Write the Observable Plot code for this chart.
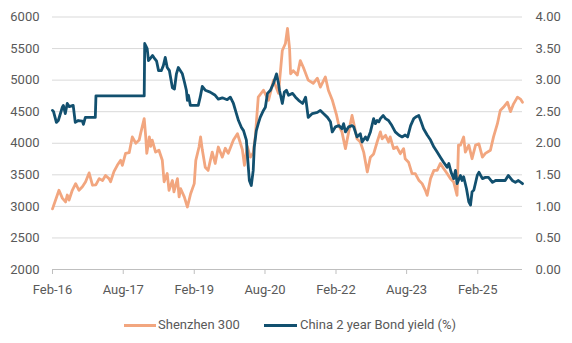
<!DOCTYPE html>
<html><head><meta charset="utf-8">
<script src="https://cdn.jsdelivr.net/npm/d3@7"></script>
<script src="https://cdn.jsdelivr.net/npm/@observablehq/plot@0.6"></script>
<style>
body{margin:0;background:#fff;font-family:Roboto,sans-serif;}
#wrap{position:relative;width:572px;height:343px;overflow:hidden;}
#wrap svg{position:absolute;left:0;top:0;}
.lt{position:absolute;top:316px;font-size:13px;color:#595959;line-height:18px;white-space:nowrap;}
.sw{position:absolute;height:3px;top:324px;}
</style></head><body><div id="wrap"></div>
<script>
// Shenzhen 300 (left axis)
const csiDates = [
"2016-02-01","2016-03-22","2016-04-17","2016-05-12","2016-05-25","2016-06-08","2016-07-03","2016-07-29","2016-08-24","2016-09-19","2016-10-14","2016-11-10","2016-12-06",
"2017-01-01","2017-01-27","2017-02-22","2017-03-17","2017-04-13","2017-04-25","2017-05-21","2017-06-16","2017-07-12","2017-07-25","2017-08-19","2017-09-16","2017-10-10","2017-11-06","2017-12-02","2017-12-14",
"2018-01-10","2018-01-22","2018-01-30","2018-02-19","2018-03-01","2018-03-13","2018-04-08","2018-05-04","2018-05-30","2018-06-13","2018-07-07","2018-07-21","2018-08-16","2018-08-28","2018-09-24","2018-10-07","2018-10-19","2018-11-16","2018-12-10",
"2019-01-04","2019-02-01","2019-02-13","2019-03-10","2019-03-22",
"2019-04-04","2019-04-27","2019-05-19","2019-06-20","2019-07-13","2019-08-06","2019-09-06","2019-09-29","2019-10-22","2019-12-01",
"2020-01-01","2020-01-24","2020-02-08","2020-02-24","2020-03-17","2020-04-10","2020-05-02","2020-05-18","2020-06-10","2020-07-20","2020-08-28","2020-10-06","2020-11-13","2020-12-13",
"2021-01-06","2021-01-22","2021-02-07","2021-02-15","2021-03-07","2021-04-08","2021-05-01","2021-05-25","2021-07-01","2021-08-09","2021-09-10","2021-10-03","2021-11-11","2021-12-04",
"2022-01-04","2022-01-15","2022-02-06","2022-02-23","2022-03-19","2022-04-15","2022-05-10","2022-06-05","2022-06-22","2022-07-13","2022-08-08","2022-09-03","2022-10-01","2022-10-25","2022-11-19","2022-12-16",
"2023-01-10","2023-01-24","2023-02-19","2023-03-14","2023-03-27","2023-04-22","2023-05-18","2023-06-13","2023-07-09","2023-07-21","2023-08-16","2023-09-12","2023-10-07","2023-11-03","2023-11-29","2023-12-24",
"2024-01-07","2024-02-02","2024-02-28","2024-03-24","2024-04-18","2024-05-13","2024-06-09","2024-07-04","2024-07-30","2024-08-25","2024-09-05","2024-09-20","2024-10-15","2024-10-28","2024-11-24","2024-12-19",
"2025-01-15","2025-02-10","2025-03-09","2025-04-01","2025-05-10","2025-06-03","2025-07-03","2025-07-25","2025-08-18","2025-09-19","2025-10-12","2025-11-04","2025-12-05","2025-12-28","2026-01-13"];
const csiValues = [
2960,3255,3130,3070,3180,3100,3255,3360,3255,3310,3390,3530,3335,
3340,3440,3410,3490,3440,3390,3550,3650,3730,3650,3840,3850,4100,4000,4050,4160,
4390,4100,3840,4100,3950,4050,3860,3890,3730,3390,3520,3255,3410,3230,3440,3150,3280,3150,2990,
3200,3360,3730,3940,4100,
3900,3620,3570,3860,3680,3940,3780,3920,3840,4050,
4150,4000,3900,3650,3950,3780,3850,4100,4730,4840,4680,5000,4790,5470,
5580,5820,5500,5100,5150,5080,5310,5200,5000,4950,5030,4890,5050,4840,
4680,4600,4440,4280,4180,3915,4180,4440,4280,4070,4020,3860,3545,3780,3830,4020,
4180,4070,4125,4020,4100,3915,3940,3835,3915,3755,3700,3520,3520,3415,3360,3255,
3175,3440,3570,3570,3680,3600,3520,3440,3385,3175,3970,3970,4100,3860,3970,3755,
3970,3990,3780,3840,3890,4100,4310,4520,4570,4650,4500,4620,4730,4700,4650];

// China 2 year Bond yield, % (right axis)
const bondDates = [
"2016-02-01","2016-02-09","2016-03-02","2016-03-17","2016-04-17","2016-04-25","2016-05-10","2016-05-25","2016-06-10","2016-07-10","2016-07-26","2016-08-18","2016-09-19","2016-09-27","2016-10-12","2016-12-28",
"2017-01-02",
"2018-01-10","2018-01-14","2018-02-02","2018-02-12","2018-02-28","2018-03-16","2018-04-01","2018-04-16","2018-05-01","2018-05-22","2018-06-07","2018-06-22","2018-07-07","2018-07-24","2018-08-16","2018-09-01","2018-09-16","2018-10-01","2018-11-01","2018-11-17","2018-12-02","2018-12-10","2018-12-18",
"2019-01-02","2019-03-04","2019-03-19","2019-04-04","2019-04-27","2019-06-04","2019-07-13","2019-08-06","2019-09-06","2019-10-14","2019-11-07","2019-12-01","2019-12-24",
"2020-01-09","2020-02-01","2020-02-17","2020-03-10","2020-03-17","2020-04-02","2020-04-17","2020-05-02","2020-05-10","2020-05-26","2020-06-10","2020-06-25","2020-07-20","2020-08-04","2020-08-20","2020-09-12","2020-10-06","2020-10-29","2020-11-13","2020-11-21","2020-12-13","2020-12-29",
"2021-01-14","2021-01-30","2021-03-02","2021-03-25","2021-04-18","2021-05-19","2021-06-11","2021-07-01","2021-08-02","2021-09-10","2021-10-03","2021-10-27","2021-11-27","2021-12-20",
"2022-01-03","2022-01-28","2022-02-23","2022-03-19","2022-04-01","2022-04-15","2022-05-10","2022-06-05","2022-06-18","2022-07-13","2022-08-08","2022-08-22","2022-09-17","2022-10-01","2022-10-25","2022-11-19","2022-12-03","2022-12-16","2022-12-29",
"2023-01-10","2023-02-01","2023-02-19","2023-03-14","2023-04-09","2023-05-05","2023-06-01","2023-06-27","2023-07-21","2023-08-09","2023-09-01","2023-09-25","2023-10-15","2023-11-03","2023-11-21","2023-12-10",
"2024-01-07","2024-02-02","2024-02-28","2024-03-24","2024-04-18","2024-05-13","2024-06-09","2024-06-22","2024-07-10","2024-07-30","2024-08-13","2024-08-25","2024-09-20","2024-10-03","2024-10-15","2024-11-06","2024-11-24","2024-12-07","2024-12-19",
"2025-01-02","2025-01-28","2025-02-10","2025-03-09","2025-04-01","2025-04-25","2025-05-26","2025-06-19","2025-07-25","2025-09-01","2025-09-25","2025-10-26","2025-11-19","2025-12-12","2026-01-13"];
const bondValues = [
2.52,2.50,2.33,2.36,2.57,2.60,2.47,2.63,2.58,2.60,2.33,2.36,2.35,2.30,2.41,2.41,
2.75,
2.75,3.58,3.50,3.31,3.35,3.39,3.34,3.30,3.15,3.15,3.23,3.36,3.20,3.15,2.88,2.86,3.10,3.20,3.10,2.97,2.84,2.68,2.76,
2.60,2.60,2.73,2.90,2.84,2.81,2.76,2.70,2.72,2.69,2.73,2.63,2.47,
2.36,2.25,2.20,2.05,1.84,1.41,1.33,1.57,1.94,2.20,2.31,2.41,2.52,2.57,2.79,2.84,2.95,3.10,2.95,2.84,2.63,2.81,
2.84,2.76,2.79,2.73,2.68,2.63,2.73,2.41,2.47,2.49,2.52,2.47,2.41,2.34,
2.18,2.26,2.28,2.23,2.31,2.18,2.26,2.28,2.26,2.10,2.15,2.02,2.10,2.05,2.18,2.39,2.31,2.36,2.34,
2.39,2.44,2.39,2.36,2.28,2.18,2.13,2.10,2.13,2.10,2.28,2.39,2.42,2.44,2.34,2.23,
2.13,2.05,1.94,1.86,1.78,1.70,1.62,1.68,1.54,1.44,1.57,1.36,1.49,1.41,1.47,1.28,1.07,1.02,1.23,
1.26,1.49,1.54,1.44,1.46,1.46,1.38,1.41,1.41,1.41,1.49,1.41,1.38,1.41,1.36];

const leftTicks = [2000,2500,3000,3500,4000,4500,5000,5500,6000];
const rightTicks = [0,0.5,1,1.5,2,2.5,3,3.5,4];
const xTickDates = ["2016-02-01","2017-08-01","2019-02-01","2020-08-01","2022-02-01","2023-08-01","2025-02-01"];
const xDomain = ["2016-02-01","2026-01-13"];

const seriesNames = ["Shenzhen 300","China 2 year Bond yield (%)"];
const colors = ["#F2A67F","#12506F"];

// right axis shares the plot height: 0..4 maps onto 2000..6000
const toLeft = v => 2000 + v * 1000;
const toRight = d => (d - 2000) / 1000;

const csi = csiDates.map((d,i) => ({date: new Date(d), value: csiValues[i]}));
const bond = bondDates.map((d,i) => ({date: new Date(d), value: toLeft(bondValues[i])}));

const fmt = d3.utcFormat("%b-%y");
const textColor = "#595959";

const chart = Plot.plot({
  width: 572,
  height: 300,
  marginTop: 16.5,
  marginBottom: 31,
  marginLeft: 52,
  marginRight: 50,
  style: {fontFamily: "Roboto, sans-serif", fontSize: "13px", color: textColor, background: "transparent", overflow: "visible"},
  x: {type: "utc", domain: xDomain.map(d => new Date(d))},
  y: {domain: [2000, 6000]},
  marks: [
    Plot.ruleY(leftTicks.slice(1), {stroke: "#d9d9d9", strokeWidth: 1}),
    Plot.ruleY([2000], {stroke: "#bfbfbf", strokeWidth: 1}),
    Plot.axisX({ticks: xTickDates.map(d => new Date(d)), tickFormat: fmt, tickSize: 5, tickPadding: 10, stroke: "#bfbfbf", fill: textColor, label: null}),
    Plot.axisY({anchor: "left", ticks: leftTicks, tickFormat: d => String(d), tickSize: 0, tickPadding: 13, fill: textColor, label: null}),
    Plot.axisY({anchor: "right", ticks: rightTicks.map(toLeft), tickFormat: d => toRight(d).toFixed(2), tickSize: 0, tickPadding: 13, fill: textColor, label: null}),
    Plot.line(csi, {x: "date", y: "value", stroke: colors[0], strokeWidth: 2.8, strokeLinejoin: "round"}),
    Plot.line(bond, {x: "date", y: "value", stroke: colors[1], strokeWidth: 2.8, strokeLinejoin: "round"})
  ]
});

const wrap = document.getElementById("wrap");
wrap.appendChild(chart);

const legendItems = [
  {sw: 124, swW: 32, tx: 158},
  {sw: 264, swW: 33, tx: 300}
];
legendItems.forEach((it, i) => {
  const s = document.createElement("div");
  s.className = "sw";
  s.style.left = it.sw + "px";
  s.style.width = it.swW + "px";
  s.style.background = colors[i];
  wrap.appendChild(s);
  const t = document.createElement("div");
  t.className = "lt";
  t.style.left = it.tx + "px";
  t.textContent = seriesNames[i];
  wrap.appendChild(t);
});
</script>
</body></html>
